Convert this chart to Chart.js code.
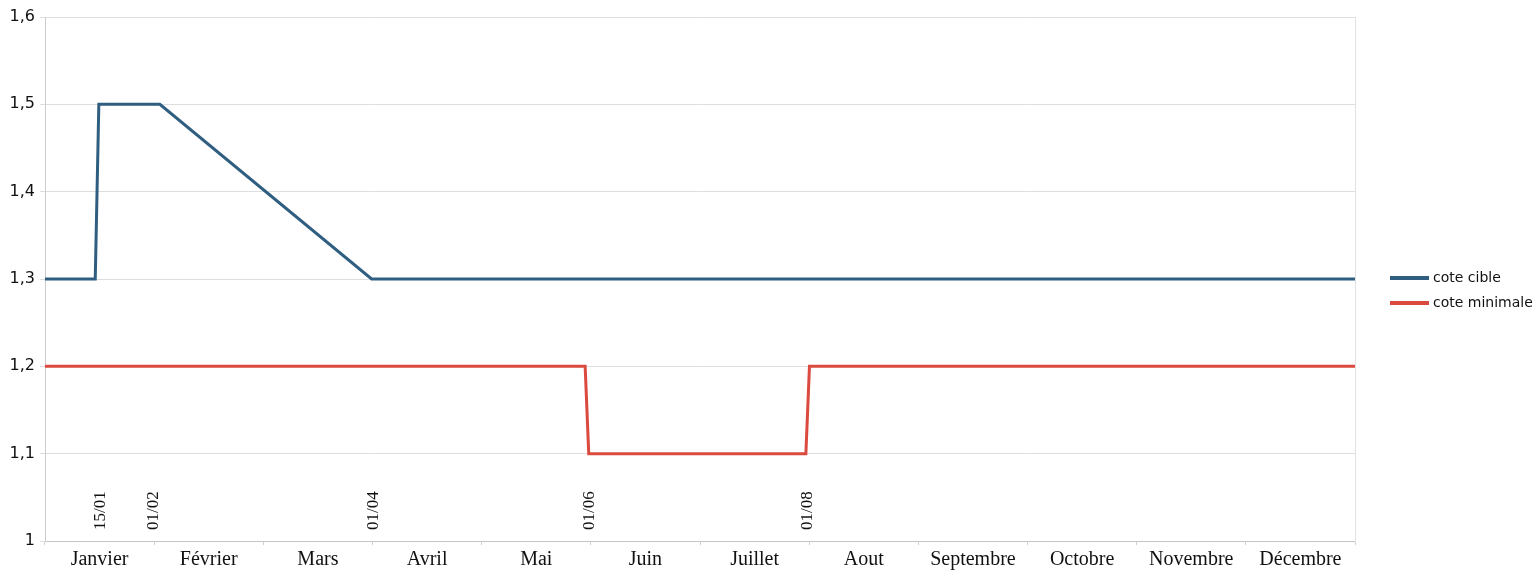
<!DOCTYPE html>
<html lang="fr">
<head>
<meta charset="utf-8">
<title>Cotes de gestion</title>
<script src="https://cdn.jsdelivr.net/npm/chart.js@4/dist/chart.umd.min.js"></script>
<style>
  html, body { margin: 0; padding: 0; background: #ffffff; }
  #wrap { width: 1539px; height: 571px; }
</style>
</head>
<body>
<div id="wrap"><canvas id="chart" width="1539" height="571"></canvas></div>
<script>
// Month names shown under the axis
const monthLabels = ['Janvier', 'Février', 'Mars', 'Avril', 'Mai', 'Juin', 'Juillet',
  'Aout', 'Septembre', 'Octobre', 'Novembre', 'Décembre'];

// Day of year (0 = 1er janvier) and level for each series
const cibleDays = [0, 14, 15, 32, 91, 365];
const cibleValues = [1.3, 1.3, 1.5, 1.5, 1.3, 1.3];
const minimaleDays = [0, 150.5, 151.5, 212, 213, 365];
const minimaleValues = [1.2, 1.2, 1.1, 1.1, 1.2, 1.2];

// Dates written vertically above the axis, at their day of year
const dateMarkLabels = ['15/01', '01/02', '01/04', '01/06', '01/08'];
const dateMarkDays = [15.6, 30.2, 91.6, 151.7, 212.6];

// Vertical axis ticks
const yTickValues = [1, 1.1, 1.2, 1.3, 1.4, 1.5, 1.6];
const yTickLabels = ['1', '1,1', '1,2', '1,3', '1,4', '1,5', '1,6'];

const toPoints = (xs, ys) => xs.map((x, i) => ({ x: x, y: ys[i] }));

// Rotated date annotations placed through the day scale
const dateMarks = {
  id: 'dateMarks',
  afterDatasetsDraw(chart) {
    const ctx = chart.ctx;
    const xs = chart.scales.x;
    const base = chart.scales.y.getPixelForValue(1) - 11;
    ctx.save();
    ctx.fillStyle = '#111111';
    ctx.font = '17px "Liberation Serif"';
    ctx.textAlign = 'left';
    ctx.textBaseline = 'middle';
    dateMarkLabels.forEach((txt, i) => {
      const px = xs.getPixelForValue(dateMarkDays[i]);
      ctx.save();
      ctx.translate(px, base);
      ctx.rotate(-Math.PI / 2);
      ctx.fillText(txt, 0, 0);
      ctx.restore();
    });
    ctx.restore();
  }
};

// Legend drawn to the right of the plot area
const sideLegend = {
  id: 'sideLegend',
  afterDraw(chart) {
    const ctx = chart.ctx;
    const a = chart.chartArea;
    const x0 = a.right + 35;
    const y0 = (a.top + a.bottom) / 2 - 1;
    ctx.save();
    ctx.font = '14px "DejaVu Sans"';
    ctx.textBaseline = 'middle';
    ctx.textAlign = 'left';
    chart.data.datasets.forEach((ds, i) => {
      const y = y0 + i * 25;
      ctx.strokeStyle = ds.borderColor;
      ctx.lineWidth = 4;
      ctx.lineCap = 'butt';
      ctx.beginPath();
      ctx.moveTo(x0, y);
      ctx.lineTo(x0 + 39, y);
      ctx.stroke();
      ctx.fillStyle = '#111111';
      ctx.fillText(ds.label, x0 + 43, y);
    });
    ctx.restore();
  }
};

new Chart(document.getElementById('chart'), {
  type: 'line',
  data: {
    datasets: [
      {
        label: 'cote cible',
        data: toPoints(cibleDays, cibleValues),
        borderColor: '#2f5e80',
        backgroundColor: '#2f5e80',
        borderWidth: 3,
        pointRadius: 0,
        tension: 0,
        borderJoinStyle: 'miter',
        xAxisID: 'x',
        yAxisID: 'y'
      },
      {
        label: 'cote minimale',
        data: toPoints(minimaleDays, minimaleValues),
        borderColor: '#da4a3e',
        backgroundColor: '#da4a3e',
        borderWidth: 3,
        pointRadius: 0,
        tension: 0,
        borderJoinStyle: 'miter',
        xAxisID: 'x',
        yAxisID: 'y'
      }
    ]
  },
  options: {
    responsive: false,
    devicePixelRatio: 1,
    animation: false,
    layout: { padding: { top: 17, right: 184, left: 0, bottom: 0 } },
    plugins: {
      legend: { display: false },
      tooltip: { enabled: false }
    },
    scales: {
      x: {
        type: 'linear',
        min: 0,
        max: 365,
        display: false
      },
      m: {
        type: 'category',
        labels: monthLabels,
        position: 'bottom',
        offset: true,
        grid: {
          offset: true,
          drawOnChartArea: false,
          drawTicks: true,
          tickLength: 4,
          color: '#cfcfcf'
        },
        border: { display: true, color: '#c4c4c4', width: 1 },
        ticks: {
          color: '#111111',
          font: { family: '"Liberation Serif"', size: 20 },
          padding: 3,
          maxRotation: 0,
          autoSkip: false
        },
        afterFit(scale) { scale.height = 30; }
      },
      y: {
        type: 'linear',
        position: 'left',
        min: 1,
        max: 1.6,
        afterBuildTicks(scale) {
          scale.ticks = yTickValues.map(v => ({ value: v }));
        },
        grid: {
          color: '#dedede',
          tickLength: 5,
          drawTicks: true
        },
        border: { display: true, color: '#cccccc', width: 1 },
        ticks: {
          color: '#111111',
          font: { family: '"DejaVu Sans"', size: 16 },
          padding: 5,
          callback: (value, index) => yTickLabels[index]
        },
        afterFit(scale) { scale.width = 45; }
      },
      yRight: {
        type: 'linear',
        position: 'right',
        min: 1,
        max: 1.6,
        grid: { drawOnChartArea: false, drawTicks: false },
        border: { display: true, color: '#e2e2e2', width: 1 },
        ticks: { display: false },
        afterFit(scale) { scale.width = 0; }
      }
    }
  },
  plugins: [dateMarks, sideLegend]
});
</script>
</body>
</html>
